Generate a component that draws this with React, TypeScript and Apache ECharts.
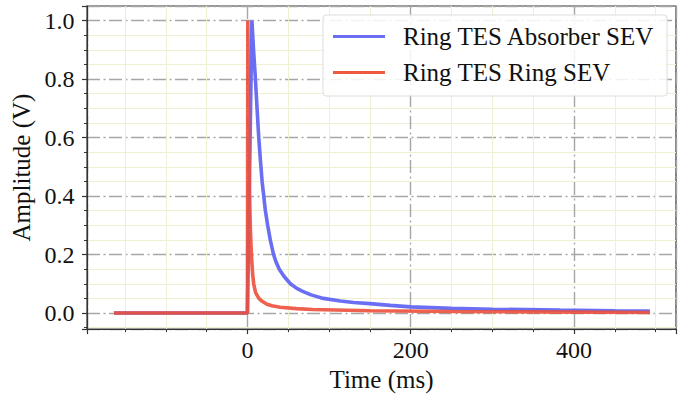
import React, { useEffect, useRef } from "react";
import * as echarts from "echarts";

// Tick labels
const xTickLabels = [0, 200, 400];
const yTickLabels = [0, 0.2, 0.4, 0.6, 0.8, 1.0];

// Ring TES Absorber SEV (time in ms, amplitude in V)
const absorberTime = [-163.5, -120, -80, -40, -1, 0, 5.5, 7.5, 9.8, 11.8, 13.9, 16, 18, 20, 22, 24.8, 28, 32, 35, 39, 45, 52.6, 60, 67, 78, 93, 114, 130, 150, 175, 200, 250, 300, 383, 450, 493];
const absorberAmp = [0.0, 0.0, 0.0, 0.0, 0.0, 0.0, 1.0, 0.9, 0.8, 0.7, 0.6, 0.52, 0.45, 0.4, 0.35, 0.3, 0.25, 0.2, 0.175, 0.15, 0.125, 0.1, 0.085, 0.075, 0.062, 0.05, 0.041, 0.036, 0.032, 0.026, 0.021, 0.016, 0.013, 0.01, 0.008, 0.007];

// Ring TES Ring SEV
const ringTime = [-163.5, -120, -80, -40, -1, 0, 0.5, 1.5, 2.5, 3.6, 4.9, 6.2, 7.7, 10, 14, 18, 24, 30, 40, 60, 80, 150, 250, 350, 493];
const ringAmp = [0.0, 0.0, 0.0, 0.0, 0.0, 0.0, 1.0, 0.65, 0.42, 0.29, 0.2, 0.14, 0.1, 0.07, 0.05, 0.04, 0.03, 0.025, 0.02, 0.015, 0.012, 0.008, 0.005, 0.004, 0.002];

const seriesNames = ["Ring TES Absorber SEV", "Ring TES Ring SEV"];

const FONT = "'Liberation Serif', 'Times New Roman', serif";

export default function App() {
  const ref = useRef<HTMLDivElement>(null);

  useEffect(() => {
    if (!ref.current) return;
    const chart = echarts.init(ref.current, null, { renderer: "svg" });
    const near = (v: number, arr: number[]) => arr.some((a) => Math.abs(a - v) < 1e-6);
    const majorSplit = {
      show: true,
      lineStyle: { color: "#a6a6a6", width: 1.4, type: [13, 3.5, 2, 3.5] },
    };
    const minorSplit = { show: true, lineStyle: { color: "#efefd4", width: 1 } };
    const labelStyle = {
      fontFamily: FONT,
      fontSize: 24,
      color: "#111111",
    };
    const rich = { s: { fontFamily: FONT, fontSize: 24, color: "#111111" } };
    const nameStyle = {
      fontFamily: FONT,
      fontSize: 25,
      color: "#111111",
      rich: { s: { fontFamily: FONT, fontSize: 25, color: "#111111" } },
    };
    chart.setOption({
      animation: false,
      backgroundColor: "#ffffff",
      textStyle: { fontFamily: FONT },
      grid: {
        left: 87,
        top: 6,
        right: 6,
        bottom: 66,
        show: true,
        borderColor: "#333333",
        borderWidth: 1.2,
        backgroundColor: "transparent",
      },
      legend: {
        orient: "vertical",
        left: 323,
        top: 15,
        padding: [9, 12, 11, 10],
        itemGap: 11,
        itemWidth: 52,
        itemHeight: 3,
        icon: "rect",
        backgroundColor: "rgba(255,255,255,0.85)",
        borderColor: "#dddddd",
        borderWidth: 1,
        borderRadius: 3,
        data: seriesNames,
        textStyle: { fontFamily: FONT, fontSize: 25, color: "#111111", padding: [0, 0, 0, 13] },
      },
      xAxis: {
        type: "value",
        min: -196.5,
        max: 525,
        minInterval: 200,
        maxInterval: 200,
        splitNumber: 4,
        name: "{s|Time (ms)}",
        nameLocation: "middle",
        nameGap: 36,
        nameTextStyle: nameStyle,
        axisLine: { show: true, onZero: false, lineStyle: { color: "#333333", width: 1.2 } },
        axisTick: { show: true, inside: false, length: 5, lineStyle: { color: "#333333", width: 1.2 } },
        minorTick: { show: true, splitNumber: 4, length: 3, lineStyle: { color: "#333333", width: 1 } },
        splitLine: majorSplit,
        minorSplitLine: minorSplit,
        axisLabel: {
          ...labelStyle,
          rich,
          margin: 9,
          formatter: (v: number) => (near(v, xTickLabels) ? "{s|" + String(Math.round(v)) + "}" : ""),
        },
      },
      yAxis: {
        type: "value",
        min: -0.055,
        max: 1.05,
        minInterval: 0.2,
        maxInterval: 0.2,
        splitNumber: 5,
        name: "{s|Amplitude (V)}",
        nameLocation: "middle",
        nameGap: 46,
        nameTextStyle: nameStyle,
        axisLine: { show: true, onZero: false, lineStyle: { color: "#333333", width: 1.2 } },
        axisTick: { show: true, inside: false, length: 5, lineStyle: { color: "#333333", width: 1.2 } },
        minorTick: { show: true, splitNumber: 4, length: 3, lineStyle: { color: "#333333", width: 1 } },
        splitLine: majorSplit,
        minorSplitLine: minorSplit,
        axisLabel: {
          ...labelStyle,
          rich,
          margin: 12.5,
          formatter: (v: number) => (near(v, yTickLabels) ? "{s|" + v.toFixed(1) + "}" : ""),
        },
      },
      series: [
        {
          name: seriesNames[0],
          type: "line",
          symbol: "none",
          smooth: false,
          color: "#6a6ef3",
          lineStyle: { color: "#6a6ef3", width: 3.6 },
          data: absorberTime.map((t, i) => [t, absorberAmp[i]]),
          z: 3,
        },
        {
          name: seriesNames[1],
          type: "line",
          symbol: "none",
          smooth: false,
          color: "#ee5a3e",
          lineStyle: { color: "rgba(236,80,60,0.9)", width: 3.6 },
          data: ringTime.map((t, i) => [t, ringAmp[i]]),
          z: 4,
        },
      ],
    });
    return () => chart.dispose();
  }, []);

  return (
    <div
      ref={ref}
      style={{ position: "fixed", left: 0, top: 0, width: 682, height: 397 }}
    />
  );
}
